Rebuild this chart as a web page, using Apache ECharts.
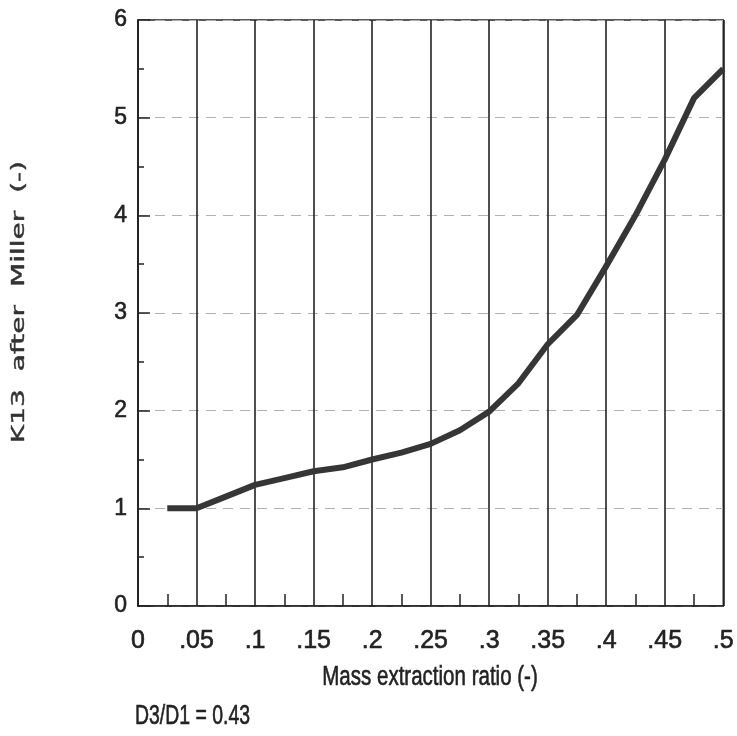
<!DOCTYPE html>
<html>
<head>
<meta charset="utf-8">
<script src="https://cdn.jsdelivr.net/npm/echarts@6/dist/echarts.min.js"></script>
<style>html,body{margin:0;padding:0;background:#fff;}#c{width:737px;height:736px;}</style>
</head>
<body>
<div id="c"></div>
<script>
// Data
var massRatio = [0.025, 0.05, 0.075, 0.1, 0.125, 0.15, 0.175, 0.2, 0.225, 0.25, 0.275, 0.3, 0.325, 0.35, 0.375, 0.4, 0.425, 0.45, 0.475, 0.5];
var k13 = [1.0, 1.0, 1.12, 1.24, 1.31, 1.38, 1.42, 1.5, 1.57, 1.66, 1.8, 1.99, 2.28, 2.68, 2.98, 3.48, 4.0, 4.57, 5.2, 5.5];
var xTickLabels = ['0', '.05', '.1', '.15', '.2', '.25', '.3', '.35', '.4', '.45', '.5'];
var yTickLabels = ['0', '1', '2', '3', '4', '5', '6'];

var sans = '"Liberation Sans Narrow", "Liberation Sans", Arial, sans-serif';
var ink = '#222';

var chart = echarts.init(document.getElementById('c'), null, {renderer: 'canvas'});
chart.setOption({
  backgroundColor: '#fff',
  animation: false,
  grid: {left: 138, right: 12, top: 20, bottom: 130, show: true, borderColor: ink, borderWidth: 1.5, backgroundColor: 'transparent'},
  xAxis: {
    type: 'value', min: 0, max: 0.5, interval: 0.05,
    axisLine: {show: true, lineStyle: {color: ink, width: 1.5}},
    axisTick: {show: false, inside: true},
    minorTick: {show: true, splitNumber: 2, length: 12, lineStyle: {color: ink, width: 1.5}},
    splitLine: {show: true, lineStyle: {color: ink, width: 1.6, type: 'solid'}},
    axisLabel: {
      margin: 23, fontFamily: sans, fontSize: 25, color: ink,
      textBorderColor: ink, textBorderWidth: 0.6,
      formatter: function (v) { return xTickLabels[Math.round(v / 0.05)]; }
    }
  },
  yAxis: {
    type: 'value', min: 0, max: 6, interval: 1,
    axisLine: {show: true, lineStyle: {color: ink, width: 1.5}},
    axisTick: {show: true, inside: true, length: 12, lineStyle: {color: ink, width: 1.5}},
    minorTick: {show: true, splitNumber: 2, length: 6, lineStyle: {color: ink, width: 1.5}},
    splitLine: {show: true, lineStyle: {color: '#b0b0b0', width: 1, type: [10, 7]}},
    axisLabel: {
      margin: 11, fontFamily: sans, fontSize: 23, color: ink,
      textBorderColor: ink, textBorderWidth: 0.6,
      formatter: function (v) { return yTickLabels[Math.round(v)]; }
    }
  },
  graphic: [
    {
      type: 'text', x: 20, y: 302, rotation: Math.PI / 2, scaleX: 1.65, scaleY: 1,
      style: {text: 'K13  after  Miller  (-)', fontFamily: '"DejaVu Sans", sans-serif', fontSize: 17, fill: '#333', stroke: '#333', lineWidth: 0.4, textAlign: 'center', textVerticalAlign: 'middle'}
    },
    {
      type: 'text', x: 430, y: 678, scaleX: 0.76, scaleY: 1,
      style: {text: 'Mass extraction ratio (-)', fontFamily: sans, fontSize: 27, fill: ink, stroke: ink, lineWidth: 0.6, textAlign: 'center', textVerticalAlign: 'middle'}
    },
    {
      type: 'text', x: 135, y: 717, scaleX: 0.72, scaleY: 1,
      style: {text: 'D3/D1 = 0.43', fontFamily: sans, fontSize: 27, fill: ink, stroke: ink, lineWidth: 0.6, textAlign: 'left', textVerticalAlign: 'middle'}
    }
  ],
  series: [{
    type: 'line',
    data: massRatio.map(function (x, i) { return [x, k13[i]]; }),
    showSymbol: false, smooth: false,
    lineStyle: {color: '#363636', width: 6, cap: 'butt', join: 'round'}
  }]
});
</script>
</body>
</html>
